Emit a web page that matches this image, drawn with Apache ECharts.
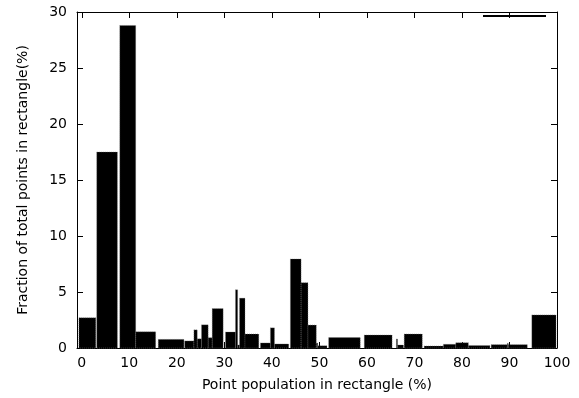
<!DOCTYPE html>
<html>
<head>
<meta charset="utf-8">
<script src="https://cdn.jsdelivr.net/npm/echarts@6/dist/echarts.min.js"></script>
<style>html,body{margin:0;padding:0;background:#fff;}#c{width:579px;height:398px;}</style>
</head>
<body>
<div id="c"></div>
<script>
// Box edges (point population %) and heights (fraction of total points %)
const boxStarts  = [-0.6, 3.15, 8.0, 11.35, 16.1, 21.65, 23.6, 24.3, 25.2, 26.6, 27.45, 30.25, 32.35, 32.8, 33.2, 34.35, 37.6, 39.7, 40.55, 43.9, 46.15, 47.6, 49.35, 49.65, 51.95, 59.45, 66.2, 66.45, 67.85, 72.05, 76.1, 78.7, 81.35, 86.15, 89.55, 89.75, 94.7];
const boxEnds    = [2.95, 7.5, 11.35, 15.55, 21.5, 23.6, 24.3, 25.2, 26.6, 27.45, 29.75, 32.35, 32.8, 33.2, 34.35, 37.25, 39.7, 40.55, 43.55, 46.15, 47.6, 49.35, 49.65, 51.6, 58.6, 65.3, 66.45, 67.7, 71.65, 76.1, 78.7, 81.35, 85.9, 89.55, 89.75, 93.75, 99.8];
const boxHeights = [2.7, 17.5, 28.8, 1.45, 0.77, 0.63, 1.62, 0.82, 2.07, 0.92, 3.52, 1.43, 5.2, 0.27, 4.45, 1.25, 0.45, 1.8, 0.36, 7.95, 5.83, 2.05, 0.45, 0.2, 0.93, 1.16, 0.8, 0.27, 1.25, 0.18, 0.33, 0.47, 0.22, 0.3, 0.42, 0.3, 2.95];
const xTicks = [0, 10, 20, 30, 40, 50, 60, 70, 80, 90, 100];
const yTicks = [0, 5, 10, 15, 20, 25, 30];

const data = boxStarts.map((s, i) => [s, boxEnds[i], boxHeights[i]]);
const FONT = 'DejaVu Sans';
const chart = echarts.init(document.getElementById('c'), null, {renderer: 'canvas'});
const lineStyle = {color: '#000', width: 1};
chart.setOption({
  animation: false,
  backgroundColor: '#fff',
  textStyle: {fontFamily: FONT, color: '#000'},
  grid: {left: 77, right: 22, top: 12, bottom: 50, containLabel: false},
  legend: {
    data: [' '], right: 33, top: 15, padding: 0,
    itemWidth: 63, itemHeight: 2, icon: 'rect', formatter: () => '',
    textStyle: {fontSize: 1}, selectedMode: false
  },
  xAxis: [{
    type: 'value', min: -1, max: 100, position: 'bottom',
    name: 'Point population in rectangle (%)', nameLocation: 'middle', nameGap: 30,
    nameTextStyle: {fontFamily: FONT, fontSize: 14, color: '#000'},
    axisLine: {show: true, lineStyle: lineStyle, onZero: false},
    axisTick: {show: true, inside: true, length: 6, lineStyle: lineStyle, customValues: xTicks},
    axisLabel: {show: true, margin: 8, fontFamily: FONT, fontSize: 14, color: '#000', customValues: xTicks},
    splitLine: {show: false}
  }, {
    type: 'value', min: -1, max: 100, position: 'top',
    axisLine: {show: true, lineStyle: lineStyle, onZero: false},
    axisTick: {show: true, inside: true, length: 6, lineStyle: lineStyle, customValues: xTicks},
    axisLabel: {show: false}, splitLine: {show: false}
  }],
  yAxis: [{
    type: 'value', min: 0, max: 30, interval: 5, position: 'left',
    name: 'Fraction of total points in rectangle(%)', nameLocation: 'middle', nameGap: 47,
    nameTextStyle: {fontFamily: FONT, fontSize: 14, color: '#000'},
    axisLine: {show: true, lineStyle: lineStyle, onZero: false},
    axisTick: {show: true, inside: true, length: 6, lineStyle: lineStyle, customValues: yTicks},
    axisLabel: {show: true, margin: 10, fontFamily: FONT, fontSize: 14, color: '#000', customValues: yTicks},
    splitLine: {show: false}
  }, {
    type: 'value', min: 0, max: 30, interval: 5, position: 'right',
    axisLine: {show: true, lineStyle: lineStyle, onZero: false},
    axisTick: {show: true, inside: true, length: 6, lineStyle: lineStyle, customValues: yTicks},
    axisLabel: {show: false}, splitLine: {show: false}
  }],
  series: [{
    name: ' ',
    type: 'custom',
    xAxisIndex: 0, yAxisIndex: 0,
    itemStyle: {color: '#000'},
    encode: {x: [0, 1], y: 2},
    renderItem: function (params, api) {
      const p0 = api.coord([api.value(0), api.value(2)]);
      const p1 = api.coord([api.value(1), 0]);
      return {
        type: 'rect',
        shape: {x: p0[0], y: p0[1], width: p1[0] - p0[0], height: p1[1] - p0[1]},
        style: {fill: '#000', stroke: '#777', lineWidth: 0.5, lineDash: [1, 1]}
      };
    },
    data: data
  }]
});
</script>
</body>
</html>
